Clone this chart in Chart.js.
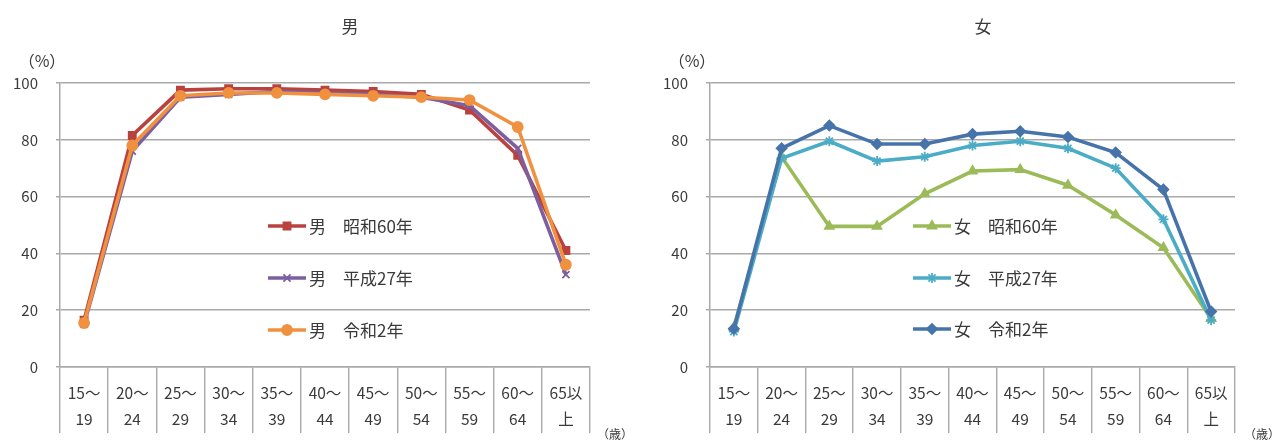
<!DOCTYPE html>
<html>
<head>
<meta charset="utf-8">
<title>年齢階級別労働力率</title>
<script src="https://cdn.jsdelivr.net/npm/chart.js@4/dist/chart.umd.min.js"></script>
<style>
  html, body { margin: 0; padding: 0; background: #fff; width: 1275px; height: 441px; overflow: hidden; }
  .panel { position: absolute; top: 0; height: 441px; }
  canvas { display: block; }
</style>
</head>
<body>
<div class="panel" style="left:0;width:640px"><canvas id="maleChart" width="640" height="441"></canvas></div>
<div class="panel" style="left:640px;width:635px"><canvas id="femaleChart" width="635" height="441"></canvas></div>
<script>
// Age groups (two-line category labels)
const ageLabels = [
  ['15～', '19'], ['20～', '24'], ['25～', '29'], ['30～', '34'], ['35～', '39'],
  ['40～', '44'], ['45～', '49'], ['50～', '54'], ['55～', '59'], ['60～', '64'], ['65以', '上']
];

// Labour force participation rate (%)
const maleShowa60  = [16.5, 81.5, 97.5, 98.0, 98.0, 97.5, 97.0, 96.0, 90.5, 74.5, 41.0];
const maleHeisei27 = [15.0, 76.0, 95.0, 96.0, 97.0, 96.5, 96.0, 95.0, 92.0, 77.0, 32.5];
const maleReiwa2   = [15.5, 78.0, 95.5, 96.5, 96.5, 96.0, 95.5, 95.0, 94.0, 84.5, 36.0];

const femaleShowa60  = [14.0, 74.0, 49.5, 49.5, 61.0, 69.0, 69.5, 64.0, 53.5, 42.0, 17.0];
const femaleHeisei27 = [12.5, 73.5, 79.5, 72.5, 74.0, 78.0, 79.5, 77.0, 70.0, 52.0, 16.5];
const femaleReiwa2   = [13.5, 77.0, 85.0, 78.5, 78.5, 82.0, 83.0, 81.0, 75.5, 62.5, 19.5];

const maleNames   = ['男　昭和60年', '男　平成27年', '男　令和2年'];
const femaleNames = ['女　昭和60年', '女　平成27年', '女　令和2年'];

const FONT = "'Noto Sans CJK JP', 'Noto Sans', sans-serif";
const TEXT = '#3a3a3a';
const GRID = '#a9a9a9';

Chart.defaults.font.family = FONT;
Chart.defaults.color = TEXT;

function series(label, data, color, style, order) {
  return {
    label, data, order,
    borderColor: color,
    backgroundColor: color,
    borderWidth: 3.6,
    pointStyle: style,
    pointRadius: 5,
    pointBackgroundColor: color,
    pointBorderColor: color,
    pointBorderWidth: 1.8,
    tension: 0,
    fill: false
  };
}

// Titles, unit captions and the in-plot legend
const overlay = {
  id: 'overlay',
  afterDraw(chart, args, o) {
    const ctx = chart.ctx;
    const area = chart.chartArea;
    ctx.save();
    ctx.fillStyle = TEXT;
    ctx.textAlign = 'center';
    ctx.textBaseline = 'middle';
    ctx.font = '17px ' + FONT;
    ctx.fillText(o.title, o.titleX, 27);
    ctx.font = '16px ' + FONT;
    ctx.fillText('（%）', o.unitX, 61);
    ctx.font = '12px ' + FONT;
    ctx.fillText('（歳）', o.ageX, 434);

    const x0 = area.left + o.legendDX;
    chart.data.datasets.forEach((ds, i) => {
      const y = o.legendY[i];
      ctx.strokeStyle = ds.borderColor;
      ctx.lineWidth = 3.4;
      ctx.beginPath();
      ctx.moveTo(x0, y);
      ctx.lineTo(x0 + 38, y);
      ctx.stroke();
      ctx.fillStyle = ds.pointBackgroundColor;
      ctx.strokeStyle = ds.pointBorderColor;
      ctx.lineWidth = ds.pointBorderWidth;
      Chart.helpers.drawPoint(ctx, {
        pointStyle: ds.pointStyle, radius: ds.pointRadius, rotation: 0, borderWidth: ds.pointBorderWidth
      }, x0 + 19, y);
      ctx.fillStyle = TEXT;
      ctx.textAlign = 'left';
      ctx.font = '17px ' + FONT;
      ctx.fillText(ds.label, x0 + 41, y + 1);
    });
    ctx.restore();
  }
};

function makeChart(id, datasets, cfg) {
  return new Chart(document.getElementById(id), {
    type: 'line',
    data: { labels: ageLabels, datasets },
    options: {
      responsive: false,
      animation: false,
      layout: { padding: { top: 83, right: cfg.padRight, left: 0, bottom: 0 } },
      plugins: {
        legend: { display: false },
        tooltip: { enabled: false },
        overlay: cfg.overlay
      },
      scales: {
        x: {
          offset: true,
          grid: { offset: true, drawOnChartArea: false, drawTicks: true, tickLength: 66, color: GRID, lineWidth: 1.4 },
          border: { display: true, color: GRID, width: 1.5 },
          ticks: { padding: -52, autoSkip: false, maxRotation: 0, color: TEXT, font: { size: 15.5, lineHeight: 1.62 } },
          afterFit(scale) { scale.height = 74; }
        },
        y: {
          min: 0, max: 100,
          ticks: { stepSize: 20, padding: 18, color: TEXT, font: { size: 15 } },
          grid: { color: GRID, lineWidth: 1.5, tickLength: 4 },
          border: { display: true, color: GRID, width: 1.5 },
          afterFit(scale) { scale.width = cfg.yWidth; }
        }
      }
    },
    plugins: [overlay]
  });
}

makeChart('maleChart', [
  series(maleNames[0], maleShowa60,  '#b9423f', 'rect', 2),
  series(maleNames[1], maleHeisei27, '#7d5fa0', 'crossRot', 1),
  series(maleNames[2], maleReiwa2,   '#f0913f', 'circle', 0)
], {
  padRight: 50, yWidth: 60,
  overlay: { title: '男', titleX: 350, unitX: 42, ageX: 615, legendDX: 208, legendY: [226, 278, 330] }
});

makeChart('femaleChart', [
  series(femaleNames[0], femaleShowa60,  '#9bbb59', 'triangle', 2),
  series(femaleNames[1], femaleHeisei27, '#4bacc6', 'star', 1),
  series(femaleNames[2], femaleReiwa2,   '#4674aa', 'rectRot', 0)
], {
  padRight: 40, yWidth: 70,
  overlay: { title: '女', titleX: 343, unitX: 52, ageX: 622, legendDX: 203, legendY: [226, 278, 329] }
});
</script>
</body>
</html>
